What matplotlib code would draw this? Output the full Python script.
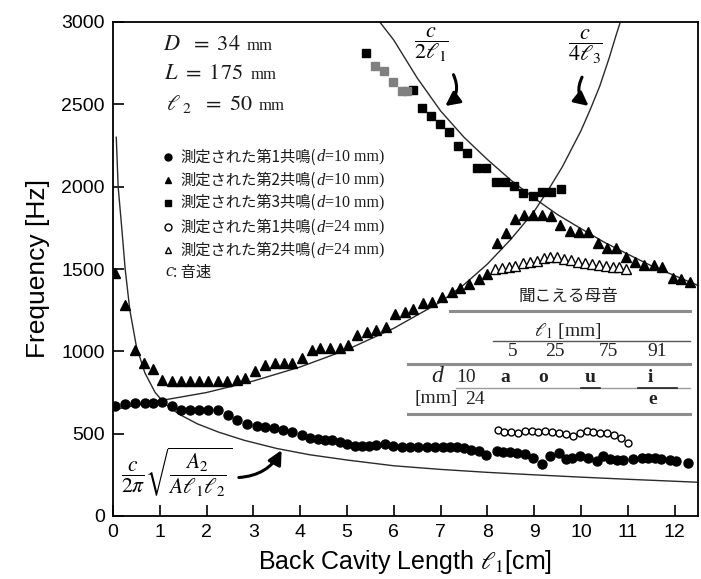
import matplotlib.pyplot as plt
from matplotlib.offsetbox import TextArea, HPacker, AnnotationBbox
from matplotlib.patches import FancyArrowPatch

plt.rcParams['mathtext.fontset'] = 'stix'
plt.rcParams['font.family'] = ['Liberation Sans', 'DejaVu Sans']

SERIF = 'Liberation Serif'
JP = 'Noto Sans CJK JP'

# measured resonances, d = 10 mm
res1_x = [0.04, 0.26, 0.47, 0.68, 0.86, 1.05, 1.25, 1.45, 1.65, 1.84, 2.04, 2.25,
          2.45, 2.66, 2.86, 3.07, 3.25, 3.45, 3.64, 3.83, 4.03, 4.21, 4.39, 4.53,
          4.67, 4.85, 4.99, 5.17, 5.31, 5.46, 5.63, 5.81, 5.99, 6.17, 6.35, 6.52,
          6.70, 6.88, 7.06, 7.20, 7.34, 7.49, 7.66, 7.81, 7.98, 8.20, 8.34, 8.48,
          8.63, 8.80, 8.98, 9.16, 9.34, 9.52, 9.69, 9.80, 9.98, 10.16, 10.34, 10.48,
          10.62, 10.76, 10.90, 11.12, 11.30, 11.44, 11.58, 11.72, 11.90, 12.04, 12.29]
res1_f = [665, 680, 685, 685, 688, 690, 668, 645, 645, 645, 645, 645,
          615, 585, 560, 545, 538, 532, 522, 508, 490, 476, 465, 460,
          460, 450, 436, 426, 426, 426, 430, 436, 426, 420, 420, 420,
          420, 420, 420, 420, 420, 410, 400, 392, 372, 395, 388, 388,
          382, 375, 352, 318, 362, 382, 345, 352, 362, 352, 335, 362,
          345, 340, 340, 345, 352, 352, 350, 348, 340, 335, 322]

res2_x = [0.04, 0.26, 0.47, 0.67, 0.86, 1.05, 1.25, 1.45, 1.65, 1.84, 2.04, 2.24,
          2.43, 2.64, 2.82, 3.03, 3.25, 3.46, 3.65, 3.83, 4.03, 4.25, 4.42, 4.64,
          4.84, 5.03, 5.21, 5.42, 5.63, 5.83, 6.03, 6.24, 6.42, 6.63, 6.81, 7.02,
          7.24, 7.41, 7.61, 7.81, 8.00, 8.20, 8.40, 8.59, 8.78, 8.98, 9.17, 9.35,
          9.56, 9.77, 9.96, 10.16, 10.37, 10.56, 10.75, 10.96, 11.15, 11.35, 11.55,
          11.74, 11.96, 12.13, 12.33]
res2_f = [1473, 1281, 1008, 931, 891, 826, 820, 820, 820, 820, 820, 820,
          820, 826, 840, 880, 917, 927, 927, 931, 960, 1008, 1018, 1018,
          1018, 1038, 1099, 1119, 1129, 1146, 1225, 1240, 1255, 1291, 1301, 1331,
          1362, 1382, 1410, 1440, 1470, 1656, 1716, 1801, 1827, 1827, 1827, 1821,
          1767, 1732, 1726, 1726, 1656, 1625, 1625, 1571, 1544, 1524, 1524,
          1510, 1443, 1437, 1420]

res3_x = [5.41, 6.42, 6.60, 6.79, 6.98, 7.17, 7.38, 7.57, 7.77, 7.98, 8.18, 8.38,
          8.57, 8.77, 8.97, 9.16, 9.35, 9.57]
res3_f = [2810, 2590, 2480, 2430, 2380, 2333, 2246, 2202, 2111, 2111, 2030, 2030,
          2004, 1959, 1943, 1969, 1969, 1984]
# faint third-resonance points
res3_faint_x = [5.60, 5.78, 5.98, 6.17, 6.28]
res3_faint_f = [2730, 2705, 2637, 2582, 2582]

# measured resonances, d = 24 mm
wide1_x = [8.22, 8.36, 8.51, 8.66, 8.80, 8.95, 9.09, 9.24, 9.39, 9.53, 9.68, 9.82,
           9.97, 10.12, 10.26, 10.41, 10.55, 10.70, 10.85, 11.00]
wide1_f = [522, 512, 512, 506, 518, 518, 512, 518, 512, 506, 498, 486,
           502, 518, 512, 506, 502, 492, 471, 445]
wide2_x = [8.16, 8.31, 8.46, 8.60, 8.75, 8.90, 9.05, 9.20, 9.34, 9.49, 9.64, 9.79,
           9.94, 10.08, 10.23, 10.38, 10.53, 10.68, 10.82, 10.97]
wide2_f = [1500, 1505, 1510, 1520, 1535, 1545, 1550, 1565, 1570, 1570, 1560, 1555,
           1545, 1535, 1530, 1525, 1520, 1515, 1510, 1500]

# model curves
helm_x = [0.07, 0.11, 0.19, 0.26, 0.36, 0.50, 0.68, 0.90, 1.10, 1.40, 1.80, 2.25,
          2.80, 3.50, 4.20, 5.00, 6.00, 7.00, 8.00, 9.00, 10.00, 11.00, 12.00, 12.50]
helm_f = [2300, 2000, 1740, 1500, 1250, 1030, 870, 750, 685, 620, 560, 510,
          460, 410, 372, 340, 305, 283, 265, 250, 236, 223, 211, 205]
front_x = [0.0, 1.0, 2.0, 3.0, 4.0, 5.0, 6.0, 7.0, 7.5, 8.0, 8.5, 9.0, 9.3, 9.6,
           9.8, 10.0, 10.2, 10.4, 10.6, 10.75, 10.84]
front_f = [645, 700, 750, 820, 905, 1010, 1140, 1300, 1405, 1530, 1680, 1850, 1980,
           2120, 2230, 2340, 2470, 2610, 2780, 2920, 3000]
back_x = [5.70, 6.0, 6.5, 7.0, 7.5, 8.0, 8.5, 9.0, 9.5, 10.0, 10.5, 11.0, 11.5,
          12.0, 12.5]
back_f = [3000, 2890, 2660, 2460, 2300, 2165, 2040, 1930, 1830, 1745, 1662, 1590,
          1520, 1460, 1400]

xticks = list(range(0, 13))
yticks = [0, 500, 1000, 1500, 2000, 2500, 3000]

fig = plt.figure(figsize=(7.01, 5.79), dpi=100)
ax = fig.add_axes([113 / 701, 63 / 579, 585 / 701, 494 / 579])

line_kw = dict(color='#2a2a2a', lw=1.0, zorder=2)
ax.plot(helm_x, helm_f, **line_kw)
ax.plot(front_x, front_f, **line_kw)
ax.plot(back_x, back_f, **line_kw)

ax.plot(res1_x, res1_f, 'o', color='black', ms=6.5, zorder=3)
ax.plot(res2_x, res2_f, '^', color='black', ms=7.5, zorder=3)
ax.plot(res3_x, res3_f, 's', color='black', ms=6, zorder=3)
ax.plot(res3_faint_x, res3_faint_f, 's', color='#808080', ms=6, zorder=3)
ax.plot(wide1_x, wide1_f, 'o', mfc='white', mec='black', mew=1.0, ms=5, zorder=3)
ax.plot(wide2_x, wide2_f, '^', mfc='white', mec='black', mew=1.0, ms=6.5, zorder=3)

ax.set_xlim(0, 12.5)
ax.set_ylim(0, 3000)
ax.set_xticks(xticks)
ax.set_yticks(yticks)
ax.tick_params(direction='in', length=8, width=1.2, labelsize=14, pad=6)
for s in ax.spines.values():
    s.set_linewidth(1.3)
ax.set_xlabel(r'Back Cavity Length $\ell_1$[cm]', fontsize=18, labelpad=5)
ax.set_ylabel('Frequency [Hz]', fontsize=19, labelpad=8)


def row(parts, x, y):
    boxes = [TextArea(s, textprops=dict(fontsize=size, family=fam, style=st, color='#1a1a1a'))
             for s, fam, st, size in parts]
    pack = HPacker(children=boxes, align='baseline', pad=0, sep=0)
    ab = AnnotationBbox(pack, (x, y), xycoords='axes fraction', box_alignment=(0, 0.5),
                        frameon=False, pad=0, annotation_clip=False)
    ax.add_artist(ab)


# geometry block
row([(r'$D\ \ =\ 34\ $ ', SERIF, 'normal', 16), ('mm', SERIF, 'normal', 12)], 0.085, 0.953)
row([(r'$L\ =\ 175\ $ ', SERIF, 'normal', 16), ('mm', SERIF, 'normal', 12)], 0.088, 0.893)
row([(r'$\ell_{\ 2}\ \ =\ 50\ $ ', SERIF, 'normal', 16), ('mm', SERIF, 'normal', 12)], 0.090, 0.834)

# legend
legend_rows = [
    ('o', 'black', '1', '10', 0.727),
    ('^', 'black', '2', '10', 0.680),
    ('s', 'black', '3', '10', 0.634),
    ('o', 'white', '1', '24', 0.585),
    ('^', 'white', '2', '24', 0.538),
]
for mk, fc, n, d, y in legend_rows:
    ax.plot([0.094], [y], mk, mfc=fc, mec='black', mew=1.0, ms=5,
            transform=ax.transAxes, clip_on=False)
    row([(f'測定された第{n}共鳴(', JP, 'normal', 11), ('d', SERIF, 'italic', 12),
         (f'={d} mm)', SERIF, 'normal', 11.5)], 0.116, y)
row([('c', SERIF, 'italic', 13), (': 音速', JP, 'normal', 11)], 0.089, 0.494)

# formula labels and arrows
ax.text(6.8, 2862, r'$\dfrac{c}{2\ell_1}$', fontsize=16, ha='center', va='center')
ax.text(10.09, 2850, r'$\dfrac{c}{4\ell_3}$', fontsize=16, ha='center', va='center')
ax.text(0.18, 272, r'$\dfrac{c}{2\pi}\sqrt{\dfrac{A_2}{A\ell_1\ell_2}}$', fontsize=15.5,
        ha='left', va='center')

arrow_kw = dict(arrowstyle='-|>,head_length=0.7,head_width=0.35', lw=2.2,
                color='black', mutation_scale=12, zorder=4)
ax.add_patch(FancyArrowPatch((2.63, 233), (3.63, 415), connectionstyle='arc3,rad=0.3', **arrow_kw))
ax.add_patch(FancyArrowPatch((7.25, 2695), (7.05, 2480), connectionstyle='arc3,rad=-0.45', **arrow_kw))
ax.add_patch(FancyArrowPatch((10.05, 2680), (10.21, 2480), connectionstyle='arc3,rad=0.45', **arrow_kw))


# vowel table
def ax_pt(px, py):
    return (px - 113) / 585, (516 - py) / 494


def hline(px0, px1, py, color='#555555', lw=1.0):
    (x0, y0), (x1, _) = ax_pt(px0, py), ax_pt(px1, py)
    ax.plot([x0, x1], [y0, y0], color=color, lw=lw, transform=ax.transAxes, clip_on=False)


def cell(px, py, s, **kw):
    x, y = ax_pt(px, py)
    kw.setdefault('family', SERIF)
    kw.setdefault('fontsize', 14)
    ax.text(x, y, s, transform=ax.transAxes, ha='center', va='center', color='#222222', **kw)


cell(568, 296, '聞こえる母音', family=JP, fontsize=12)
hline(450, 690, 311, color='#8c8c8c', lw=2.2)
cell(568, 331, r'$\ell_1$ [mm]')
hline(493, 690, 341)
for px, s in [(513, '5'), (555, '25'), (608, '75'), (657, '91')]:
    cell(px, 351, s)
hline(408, 690, 364, color='#8c8c8c', lw=2.2)
cell(437, 377, 'd', style='italic', fontsize=17)
cell(466, 378, '10')
for px, s in [(505, 'a'), (543, 'o'), (590, 'u'), (650, 'i')]:
    cell(px, 378, s, weight='bold')
hline(456, 690, 388, color='#9a9a9a', lw=1.0)
hline(581, 600, 388, color='#222222', lw=1.2)
hline(638, 677, 388, color='#222222', lw=1.2)
cell(436, 398, '[mm]')
cell(475, 399, '24')
cell(653, 399, 'e', weight='bold')
hline(408, 690, 414, color='#8c8c8c', lw=2.2)

fig.savefig('out.png', dpi=100)
